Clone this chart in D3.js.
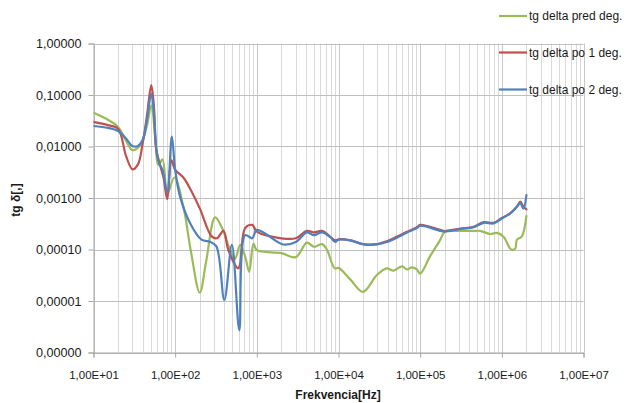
<!DOCTYPE html>
<html><head><meta charset="utf-8">
<script src="https://cdn.jsdelivr.net/npm/d3@7"></script>
<style>
html,body{margin:0;padding:0;background:#fff;}
svg{display:block;font-family:"Liberation Sans",Arial,sans-serif;}
</style></head>
<body>
<svg id="chart" width="628" height="403"></svg>
<script>
// ---- data ----
const seriesNames = ["tg delta pred deg.", "tg delta po 1 deg.", "tg delta po 2 deg."];
const seriesColors = ["#9BBB59", "#C0504D", "#4F81BD"];

const freqPred = [10,15,20,25,30,38,45,51,57,62,70,80,98,126,155,200,240,308,372,470,540,625,720,806,910,1000,2000,3000,4100,5000,6300,7200,9000,10000,14000,20000,29500,39000,47000,60000,69000,79000,91000,100000,133000,176000,200000,300000,450000,540000,720000,870000,1050000,1300000,1460000,1530000,1760000,2000000];
const valPred = [0.045,0.033,0.024,0.013,0.0085,0.011,0.025,0.063,0.0154,0.0044,0.0056,0.0012,0.0025,0.00068,0.000097,0.0000145,0.00006,0.00042,0.00027,0.000097,0.000066,0.000123,0.000073,0.000037,0.00013,0.000097,0.000085,0.000071,0.000136,0.000113,0.000127,0.0001,0.000043,0.000044,0.000026,0.000015,0.000032,0.000043,0.000039,0.000047,0.000041,0.000045,0.000041,0.000034,0.000075,0.000154,0.00022,0.00023,0.00023,0.00023,0.0002,0.00021,0.000177,0.0001,0.000105,0.000155,0.00018,0.00045];

const freqPo1 = [10,15,20,25,30,35,40,45,51,55,58,65,72,80,90,100,126,153,200,280,324,390,448,590,620,720,880,1000,2000,3000,4100,5000,6300,7900,9100,10000,14000,20000,30000,39000,52000,69000,91000,100000,176000,200000,310000,450000,600000,790000,1000000,1270000,1550000,1680000,1840000,2000000];
const valPo1 = [0.030,0.026,0.022,0.0066,0.0036,0.0045,0.0115,0.038,0.155,0.059,0.01,0.0045,0.0025,0.00095,0.0054,0.0035,0.0025,0.0015,0.00063,0.00018,0.000165,0.00023,0.000097,0.000043,0.00005,0.00026,0.0003,0.000222,0.000165,0.000165,0.00023,0.000215,0.00023,0.000178,0.00015,0.000158,0.00015,0.000128,0.000128,0.000145,0.000178,0.00022,0.00027,0.0003,0.00024,0.000228,0.000255,0.000275,0.00034,0.00033,0.00041,0.00051,0.0007,0.00085,0.00068,0.0006];

const freqPo2 = [10,15,20,25,30,35,40,45,51,55,60,65,70,80,91,100,115,153,210,270,320,400,495,610,720,880,1000,2100,3000,4100,5000,6300,7900,9100,10000,14000,20000,30000,39000,52000,69000,91000,100000,176000,200000,310000,450000,600000,790000,1000000,1270000,1550000,1680000,1840000,2000000];
const valPo2 = [0.025,0.023,0.020,0.0143,0.0102,0.0102,0.0135,0.032,0.107,0.044,0.0068,0.0044,0.0035,0.0013,0.0155,0.0035,0.00105,0.00032,0.000155,0.00014,0.000115,0.0000105,0.000123,0.0000027,0.00019,0.000165,0.00024,0.000125,0.00014,0.000215,0.00019,0.000215,0.000175,0.00014,0.000155,0.00015,0.000126,0.000126,0.00014,0.00017,0.000214,0.00026,0.00029,0.00023,0.000223,0.00025,0.00027,0.00033,0.00032,0.0004,0.0005,0.00069,0.0008,0.00062,0.00114];

const xTickValues = [1e1,1e2,1e3,1e4,1e5,1e6,1e7];
const xTickLabels = ["1,00E+01","1,00E+02","1,00E+03","1,00E+04","1,00E+05","1,00E+06","1,00E+07"];
const yTickValues = [1,0.1,0.01,0.001,0.0001,0.00001,0.000001];
const yTickLabels = ["1,00000","0,10000","0,01000","0,00100","0,00010","0,00001","0,00000"];

const xTitle = "Frekvencia[Hz]";
const yTitle = "tg δ[,]";

// ---- layout ----
const svg = d3.select("#chart");
const L = 93.5, R = 583.5, T = 43.5, B = 352.5;
const x = d3.scaleLog().domain([10, 1e7]).range([L, R]);
const y = d3.scaleLog().domain([1e-6, 1]).range([B, T]);

// minor vertical gridlines
const minor = [];
for (let d = 1; d <= 6; d++) for (let k = 2; k <= 9; k++) minor.push(k * Math.pow(10, d));
svg.append("g").selectAll("line").data(minor).join("line")
  .attr("x1", d => Math.round(x(d)) + 0.5).attr("x2", d => Math.round(x(d)) + 0.5)
  .attr("y1", T).attr("y2", B)
  .attr("stroke", "#d9d9d9").attr("stroke-width", 1);

// major vertical gridlines
svg.append("g").selectAll("line").data(xTickValues).join("line")
  .attr("x1", d => Math.round(x(d)) + 0.5).attr("x2", d => Math.round(x(d)) + 0.5)
  .attr("y1", T).attr("y2", B)
  .attr("stroke", "#c8c8c8").attr("stroke-width", 1);

// horizontal gridlines
svg.append("g").selectAll("line").data(yTickValues).join("line")
  .attr("x1", L).attr("x2", R)
  .attr("y1", d => Math.round(y(d)) + 0.5).attr("y2", d => Math.round(y(d)) + 0.5)
  .attr("stroke", "#bfbfbf").attr("stroke-width", 1);

// axes
const xAxis = d3.axisBottom(x).tickValues(xTickValues)
  .tickFormat((d, i) => xTickLabels[i]).tickSize(5).tickPadding(13);
const gx = svg.append("g").attr("transform", `translate(0,${B})`).call(xAxis);
gx.select(".domain").attr("stroke", "#a6a6a6");
gx.selectAll(".tick line").attr("stroke", "#a6a6a6");
gx.selectAll(".tick text").attr("fill", "#1a1a1a").style("font-size", "11.5px")
  .style("font-family", '"Liberation Sans",Arial,sans-serif');

const yAxis = d3.axisLeft(y).tickValues(yTickValues)
  .tickFormat((d, i) => yTickLabels[i]).tickSize(5).tickPadding(7);
const gy = svg.append("g").attr("transform", `translate(${L},0)`).call(yAxis);
gy.select(".domain").attr("stroke", "#a6a6a6");
gy.selectAll(".tick line").attr("stroke", "#a6a6a6");
gy.selectAll(".tick text").attr("fill", "#1a1a1a").style("font-size", "12.6px")
  .style("font-family", '"Liberation Sans",Arial,sans-serif');

// titles
svg.append("text").attr("x", 338).attr("y", 399).attr("text-anchor", "middle")
  .style("font-size", "12px").style("font-weight", "bold").attr("fill", "#1a1a1a").text(xTitle);
svg.append("text").attr("transform", "translate(20,200) rotate(-90)").attr("text-anchor", "middle")
  .style("font-size", "12px").style("font-weight", "bold").attr("fill", "#1a1a1a").text(yTitle);

// lines
const series = [
  {f: freqPred, v: valPred},
  {f: freqPo1, v: valPo1},
  {f: freqPo2, v: valPo2}
];
svg.append("clipPath").attr("id", "clip").append("rect")
  .attr("x", L).attr("y", T - 2).attr("width", R - L).attr("height", B - T + 2);
const line = d3.line().x(d => x(d[0])).y(d => y(d[1])).curve(d3.curveCatmullRom.alpha(0.5));
const gl = svg.append("g").attr("clip-path", "url(#clip)");
series.forEach((s, i) => {
  const pts = s.f.map((f, j) => [f, s.v[j]]);
  gl.append("path").datum(pts).attr("d", line)
    .attr("fill", "none").attr("stroke", seriesColors[i]).attr("stroke-width", 2.2)
    .attr("stroke-linejoin", "round").attr("stroke-linecap", "round");
});

// legend
const legY = [16, 52.5, 89.5];
const lg = svg.append("g");
seriesNames.forEach((n, i) => {
  lg.append("line").attr("x1", 499).attr("x2", 527).attr("y1", legY[i]).attr("y2", legY[i])
    .attr("stroke", seriesColors[i]).attr("stroke-width", 2.2);
  lg.append("text").attr("x", 529).attr("y", legY[i] + 4.3)
    .style("font-size", "12px").attr("fill", "#1a1a1a").text(n);
});
</script>
</body></html>
